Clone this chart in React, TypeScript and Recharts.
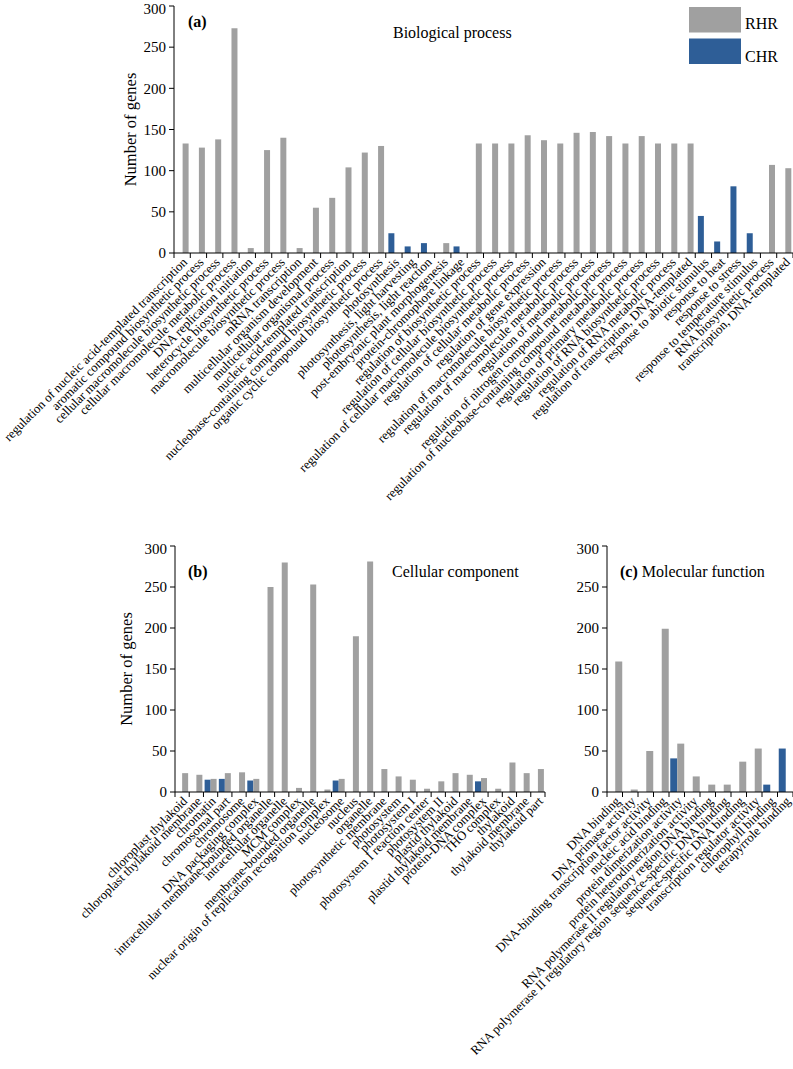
import { BarChart, Bar, XAxis, YAxis } from 'recharts';

// (a) Biological process
const BP_CATS = [
  'regulation of nucleic acid-templated transcription',
  'aromatic compound biosynthetic process',
  'cellular macromolecule biosynthetic process',
  'cellular macromolecule metabolic process',
  'DNA replication initiation',
  'heterocycle biosynthetic process',
  'macromolecule biosynthetic process',
  'mRNA transcription',
  'multicellular organism development',
  'multicellular organismal process',
  'nucleic acid-templated transcription',
  'nucleobase-containing compound biosynthetic process',
  'organic cyclic compound biosynthetic process',
  'photosynthesis',
  'photosynthesis, light harvesting',
  'photosynthesis, light reaction',
  'post-embryonic plant morphogenesis',
  'protein-chromophore linkage',
  'regulation of biosynthetic process',
  'regulation of cellular biosynthetic process',
  'regulation of cellular macromolecule biosynthetic process',
  'regulation of cellular metabolic process',
  'regulation of gene expression',
  'regulation of macromolecule biosynthetic process',
  'regulation of macromolecule metabolic process',
  'regulation of metabolic process',
  'regulation of nitrogen compound metabolic process',
  'regulation of nucleobase-containing compound metabolic process',
  'regulation of primary metabolic process',
  'regulation of RNA biosynthetic process',
  'regulation of RNA metabolic process',
  'regulation of transcription, DNA-templated',
  'response to abiotic stimulus',
  'response to heat',
  'response to stress',
  'response to temperature stimulus',
  'RNA biosynthetic process',
  'transcription, DNA-templated',
];
const BP_RHR = [133, 128, 138, 273, 6, 125, 140, 6, 55, 67, 104, 122, 130, 0, 0, 0, 12, 0, 133, 133, 133, 143, 137, 133, 146, 147, 142, 133, 142, 133, 133, 133, 0, 0, 0, 0, 107, 103];
const BP_CHR = [0, 0, 0, 0, 0, 0, 0, 0, 0, 0, 0, 0, 0, 24, 8, 12, 0, 8, 0, 0, 0, 0, 0, 0, 0, 0, 0, 0, 0, 0, 0, 0, 45, 14, 81, 24, 0, 0];

// (b) Cellular component
const CC_CATS = [
  'chloroplast thylakoid',
  'chloroplast thylakoid membrane',
  'chromatin',
  'chromosomal part',
  'chromosome',
  'DNA packaging complex',
  'intracellular membrane-bounded organelle',
  'intracellular organelle',
  'MCM complex',
  'membrane-bounded organelle',
  'nuclear origin of replication recognition complex',
  'nucleosome',
  'nucleus',
  'organelle',
  'photosynthetic membrane',
  'photosystem',
  'photosystem I',
  'photosystem I reaction center',
  'photosystem II',
  'plastid thylakoid',
  'plastid thylakoid membrane',
  'protein-DNA complex',
  'THO complex',
  'thylakoid',
  'thylakoid membrane',
  'thylakoid part',
];
const CC_RHR = [23, 21, 16, 23, 24, 16, 250, 280, 5, 253, 3, 16, 190, 281, 28, 19, 15, 4, 13, 23, 21, 17, 4, 36, 23, 28];
const CC_CHR = [0, 0, 15, 16, 0, 14, 0, 0, 0, 0, 0, 14, 0, 0, 0, 0, 0, 0, 0, 0, 0, 13, 0, 0, 0, 0];

// (c) Molecular function
const MF_CATS = [
  'DNA binding',
  'DNA primase activity',
  'DNA-binding transcription factor activity',
  'nucleic acid binding',
  'protein dimerization activity',
  'protein heterodimerization activity',
  'RNA polymerase II regulatory region DNA binding',
  'RNA polymerase II regulatory region sequence-specific DNA binding',
  'sequence-specific DNA binding',
  'transcription regulator activity',
  'chlorophyll binding',
  'tetrapyrrole binding',
];
const MF_RHR = [159, 3, 50, 199, 59, 19, 9, 9, 37, 53, 0, 0];
const MF_CHR = [0, 0, 0, 0, 41, 0, 0, 0, 0, 0, 9, 53];

const Y_TICKS = [0, 50, 100, 150, 200, 250, 300];
const SERIES = ['RHR', 'CHR'];

const FONT = '"Liberation Serif", "Times New Roman", serif';
const RHR_COLOR = '#a0a0a0';
const CHR_COLOR = '#2e5e97';

const rows = (cats: string[], rhr: number[], chr: number[]) =>
  cats.map((name, i) => ({ name, RHR: rhr[i], CHR: chr[i] }));

// tick marks sit on category boundaries, labels hang at 45 degrees
const makeTick = (bw: number) => (props: any) => {
  const { x, y, payload, index, visibleTicksCount } = props;
  const tx = x + 6;
  const ty = y + 10;
  return (
    <g>
      <line x1={x - bw / 2} x2={x - bw / 2} y1={y} y2={y + 5} stroke="#000" />
      {index === visibleTicksCount - 1 && (
        <line x1={x + bw / 2} x2={x + bw / 2} y1={y} y2={y + 5} stroke="#000" />
      )}
      <text x={tx} y={ty} textAnchor="end" fontSize={12.8} fontFamily={FONT} fill="#000"
        transform={`rotate(-45, ${tx}, ${ty})`}>
        {payload.value}
      </text>
    </g>
  );
};

interface PanelProps {
  data: { name: string; RHR: number; CHR: number }[];
  top: number;
  height: number;
  margin: { top: number; right: number; left: number; bottom: number };
  yWidth: number;
  xHeight: number;
  bw: number;
  gap: string;
  yLabelDx?: number;
}

function Panel({ data, top, height, margin, yWidth, xHeight, bw, gap, yLabelDx }: PanelProps) {
  return (
    <div style={{ position: 'absolute', left: 0, top }}>
      <BarChart width={793} height={height} data={data} margin={margin} barCategoryGap={gap} barGap={0}>
        <XAxis dataKey="name" type="category" interval={0} height={xHeight} tickSize={0} tickMargin={0}
          axisLine={{ stroke: '#000' }} tick={makeTick(bw)} />
        <YAxis type="number" domain={[0, 300]} ticks={Y_TICKS} width={yWidth} tickSize={5} tickMargin={3}
          axisLine={{ stroke: '#000' }} tickLine={{ stroke: '#000' }}
          tick={{ fontSize: 15, fontFamily: FONT, fill: '#000' }}
          label={yLabelDx !== undefined ? { value: 'Number of genes', angle: -90, position: 'center', dx: yLabelDx, fontSize: 16.5, fontFamily: FONT, fill: '#000' } : undefined} />
        <Bar dataKey="CHR" fill={CHR_COLOR} isAnimationActive={false} />
        <Bar dataKey="RHR" fill={RHR_COLOR} isAnimationActive={false} />
      </BarChart>
    </div>
  );
}

export default function App() {
  return (
    <div style={{ position: 'absolute', left: 0, top: 0, width: 793, height: 1069, background: '#fff' }}>
      <Panel data={rows(BP_CATS, BP_RHR, BP_CHR)} top={0} height={530}
        margin={{ top: 6, right: 0, left: 0, bottom: 0 }} yWidth={174} xHeight={277}
        bw={619 / 38} gap="16%" yLabelDx={43} />
      <Panel data={rows(CC_CATS, CC_RHR, CC_CHR)} top={540} height={529}
        margin={{ top: 6, right: 248, left: 0, bottom: 0 }} yWidth={175} xHeight={277}
        bw={370 / 26} gap="8%" yLabelDx={39} />
      <Panel data={rows(MF_CATS, MF_RHR, MF_CHR)} top={540} height={529}
        margin={{ top: 6, right: 0, left: 540, bottom: 0 }} yWidth={67} xHeight={277}
        bw={186 / 12} gap="8%" />
      <svg width={793} height={1069} style={{ position: 'absolute', left: 0, top: 0, pointerEvents: 'none' }}
        fontFamily={FONT} fontSize={16}>
        <text x={188} y={27} fontWeight="bold">(a)</text>
        <text x={393} y={38}>Biological process</text>
        <text x={188} y={577} fontWeight="bold">(b)</text>
        <text x={392} y={577}>Cellular component</text>
        <text x={620} y={577}><tspan fontWeight="bold">(c)</tspan> Molecular function</text>
        {/* legend */}
        {SERIES.map((s, i) => (
          <g key={s}>
            <rect x={689} y={7 + i * 31.5} width={52} height={25.5} fill={s === 'RHR' ? RHR_COLOR : CHR_COLOR} />
            <text x={745} y={29 + i * 32.5}>{s}</text>
          </g>
        ))}
      </svg>
    </div>
  );
}
